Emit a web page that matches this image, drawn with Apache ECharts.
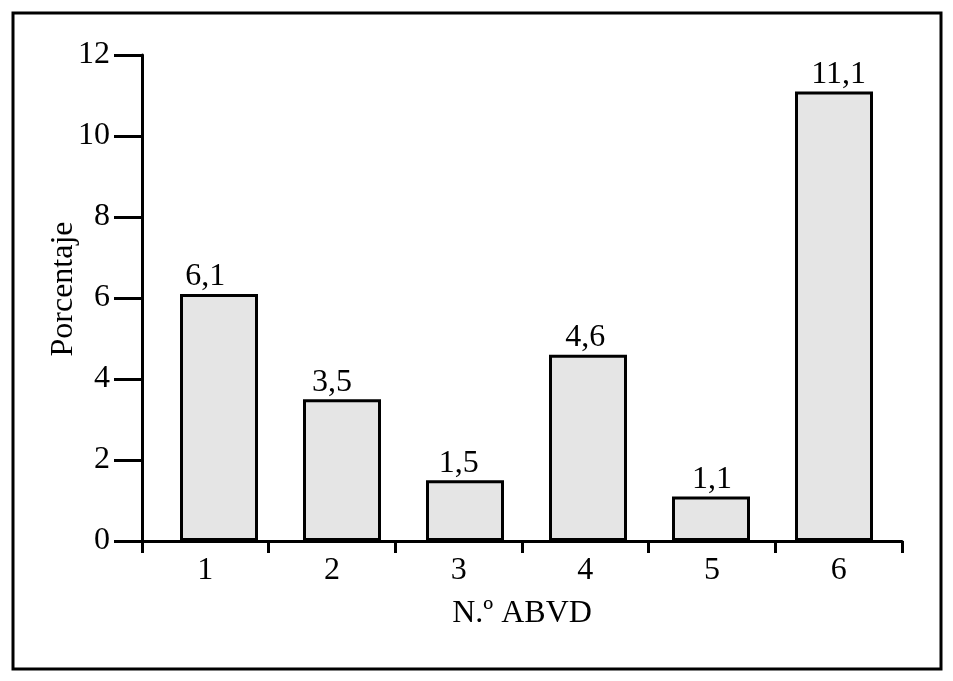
<!DOCTYPE html>
<html>
<head>
<meta charset="utf-8">
<script src="https://cdn.jsdelivr.net/npm/echarts@6/dist/echarts.min.js"></script>
<style>
html,body{margin:0;padding:0;background:#fff;}
#main{width:953px;height:681px;}
</style>
</head>
<body>
<div id="main"></div>
<script>
var categories = ['1', '2', '3', '4', '5', '6'];
var values = [6.1, 3.5, 1.5, 4.6, 1.1, 11.1];
var yTicks = { min: 0, max: 12, interval: 2 };
var xName = 'N.º ABVD';
var yName = 'Porcentaje';

var FONT = 'Liberation Serif';
var FS = 32;
var chart = echarts.init(document.getElementById('main'), null, { renderer: 'canvas' });

function fmt(v) { return String(v).replace('.', ','); }

var option = {
  backgroundColor: '#ffffff',
  animation: false,
  textStyle: { fontFamily: FONT, color: '#000' },
  graphic: [{
    type: 'rect',
    shape: { x: 13, y: 13, width: 928, height: 656 },
    style: { fill: 'none', stroke: '#000', lineWidth: 3 },
    z: 100
  }],
  grid: [
    { left: 142, right: 51, top: 55, bottom: 140 },
    { left: 157.5, right: 57.5, top: 55, bottom: 140 }
  ],
  xAxis: [{
    type: 'category',
    gridIndex: 0,
    data: categories,
    boundaryGap: true,
    name: xName,
    nameLocation: 'middle',
    nameGap: 57,
    nameMoveOverlap: false,
    nameTextStyle: { fontFamily: FONT, fontSize: FS, color: '#000' },
    axisLine: { show: true, lineStyle: { color: '#000', width: 3 } },
    axisTick: { show: true, interval: 0, length: 12, lineStyle: { color: '#000', width: 3 } },
    axisLabel: { interval: 0, margin: 14, fontFamily: FONT, fontSize: FS, color: '#000' },
    splitLine: { show: false },
    z: 10
  }, {
    type: 'category',
    gridIndex: 1,
    data: categories,
    show: false
  }],
  yAxis: [{
    type: 'value',
    gridIndex: 0,
    min: yTicks.min,
    max: yTicks.max,
    interval: yTicks.interval,
    name: yName,
    nameLocation: 'middle',
    nameGap: 62,
    nameMoveOverlap: false,
    nameRotate: 90,
    nameTextStyle: { fontFamily: FONT, fontSize: FS, color: '#000', padding: [0, 0, 0, 18] },
    axisLine: { show: true, lineStyle: { color: '#000', width: 3 } },
    axisTick: { show: true, length: 28, lineStyle: { color: '#000', width: 3 } },
    axisLabel: { margin: 32, fontFamily: FONT, fontSize: FS, color: '#000' },
    splitLine: { show: false },
    z: 10
  }, {
    type: 'value',
    gridIndex: 1,
    min: yTicks.min,
    max: yTicks.max,
    interval: yTicks.interval,
    show: false
  }],
  series: [{
    type: 'bar',
    xAxisIndex: 1,
    yAxisIndex: 1,
    data: values,
    barWidth: 78,
    itemStyle: { color: '#e5e5e5', borderColor: '#000', borderWidth: 3 },
    z: 2
  }, {
    type: 'bar',
    xAxisIndex: 0,
    yAxisIndex: 0,
    data: values,
    barWidth: 72,
    itemStyle: { color: 'rgba(0,0,0,0)' },
    label: {
      show: true,
      position: 'top',
      distance: 1,
      fontFamily: FONT,
      fontSize: FS,
      color: '#000',
      formatter: function (p) { return fmt(p.value); }
    },
    z: 3
  }]
};
chart.setOption(option);
</script>
</body>
</html>
